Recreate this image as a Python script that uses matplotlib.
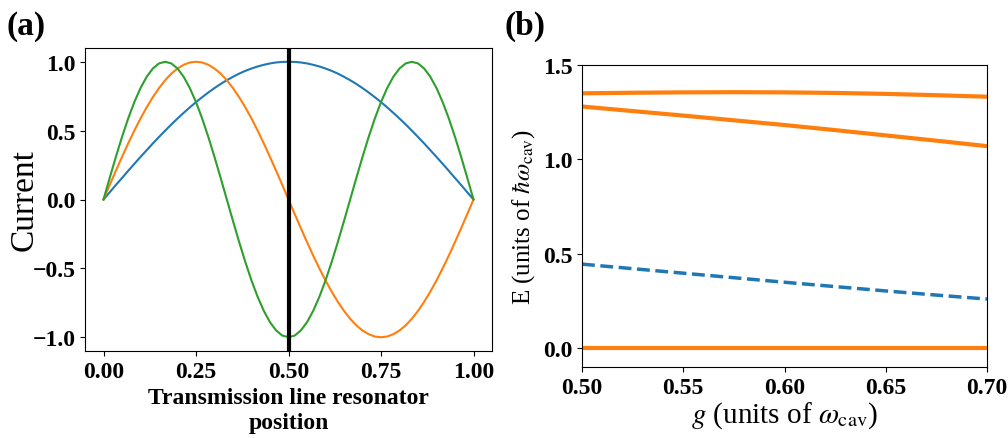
import matplotlib
matplotlib.use('Agg')
import matplotlib.pyplot as plt

position = [i / 60 for i in range(61)]
mode1 = [0, .052, .105, .156, .208, .259, .309, .358, .407, .454, .500, .545, .588, .629, .669, .707,
         .743, .777, .809, .839, .866, .891, .914, .934, .951, .966, .978, .988, .995, .999, 1.0,
         .999, .995, .988, .978, .966, .951, .934, .914, .891, .866, .839, .809, .777, .743, .707,
         .669, .629, .588, .545, .500, .454, .407, .358, .309, .259, .208, .156, .105, .052, 0]
mode2 = [0, .105, .208, .309, .407, .500, .588, .669, .743, .809, .866, .914, .951, .978, .995, 1.0,
         .995, .978, .951, .914, .866, .809, .743, .669, .588, .500, .407, .309, .208, .105, 0,
         -.105, -.208, -.309, -.407, -.500, -.588, -.669, -.743, -.809, -.866, -.914, -.951, -.978, -.995, -1.0,
         -.995, -.978, -.951, -.914, -.866, -.809, -.743, -.669, -.588, -.500, -.407, -.309, -.208, -.105, 0]
mode3 = [0, .156, .309, .454, .588, .707, .809, .891, .951, .988, 1.0,
         .988, .951, .891, .809, .707, .588, .454, .309, .156, 0,
         -.156, -.309, -.454, -.588, -.707, -.809, -.891, -.951, -.988, -1.0,
         -.988, -.951, -.891, -.809, -.707, -.588, -.454, -.309, -.156, 0,
         .156, .309, .454, .588, .707, .809, .891, .951, .988, 1.0,
         .988, .951, .891, .809, .707, .588, .454, .309, .156, 0]
qubit_pos = 0.5

# (b) energy levels vs coupling
g = [0.500, 0.525, 0.550, 0.575, 0.600, 0.625, 0.650, 0.675, 0.700]
E_top = [1.350, 1.353, 1.355, 1.356, 1.355, 1.352, 1.347, 1.340, 1.332]
E_second = [1.280, 1.256, 1.232, 1.207, 1.182, 1.155, 1.127, 1.099, 1.070]
E_dashed = [0.445, 0.421, 0.397, 0.373, 0.349, 0.326, 0.303, 0.281, 0.260]
E_ground = [0, 0, 0, 0, 0, 0, 0, 0, 0]

plt.rcParams['font.family'] = 'Liberation Serif'
plt.rcParams['mathtext.fontset'] = 'stix'

fig = plt.figure(figsize=(10.08, 4.39), dpi=100)
ax1 = fig.add_axes([85/1008, 1 - 352/439, (492-85)/1008, (352-49)/439])
ax2 = fig.add_axes([582/1008, 1 - 368/439, (987-582)/1008, (368-66)/439])

ax1.plot(position, mode1, color='#1f77b4', lw=1.5)
ax1.plot(position, mode2, color='#ff7f0e', lw=1.5)
ax1.plot(position, mode3, color='#2ca02c', lw=1.5)
ax1.axvline(qubit_pos, color='black', lw=3)
ax1.set_xticks([0, 0.25, 0.5, 0.75, 1.0])
ax1.set_yticks([-1.0, -0.5, 0.0, 0.5, 1.0])
ax1.set_ylabel('Current', fontsize=24, labelpad=-5)
ax1.set_xlabel('Transmission line resonator\nposition', fontsize=17, fontweight='bold', linespacing=1.25)

ax2.plot(g, E_top, color='#ff7f0e', lw=3)
ax2.plot(g, E_second, color='#ff7f0e', lw=3)
ax2.plot(g, E_dashed, color='#1f77b4', lw=2.5, ls='--')
ax2.plot(g, E_ground, color='#ff7f0e', lw=3)
ax2.set_xlim(0.5, 0.7)
ax2.set_ylim(-0.1, 1.5)
ax2.set_xticks([0.50, 0.55, 0.60, 0.65, 0.70])
ax2.set_yticks([0.0, 0.5, 1.0, 1.5])
ax2.set_xlabel(r'$g$ (units of $\omega_{\rm cav}$)', fontsize=21, labelpad=1)
ax2.set_ylabel(r'E (units of $\hbar\omega_{\rm cav}$)', fontsize=18)

for ax in (ax1, ax2):
    for lab in ax.get_xticklabels() + ax.get_yticklabels():
        lab.set_fontweight('bold')
        lab.set_fontsize(17)

fig.text(7/1008, 1 - 35/439, '(a)', fontsize=24, fontweight='bold', va='baseline')
fig.text(505/1008, 1 - 35/439, '(b)', fontsize=24, fontweight='bold', va='baseline')

plt.savefig('out.png', dpi=100)
